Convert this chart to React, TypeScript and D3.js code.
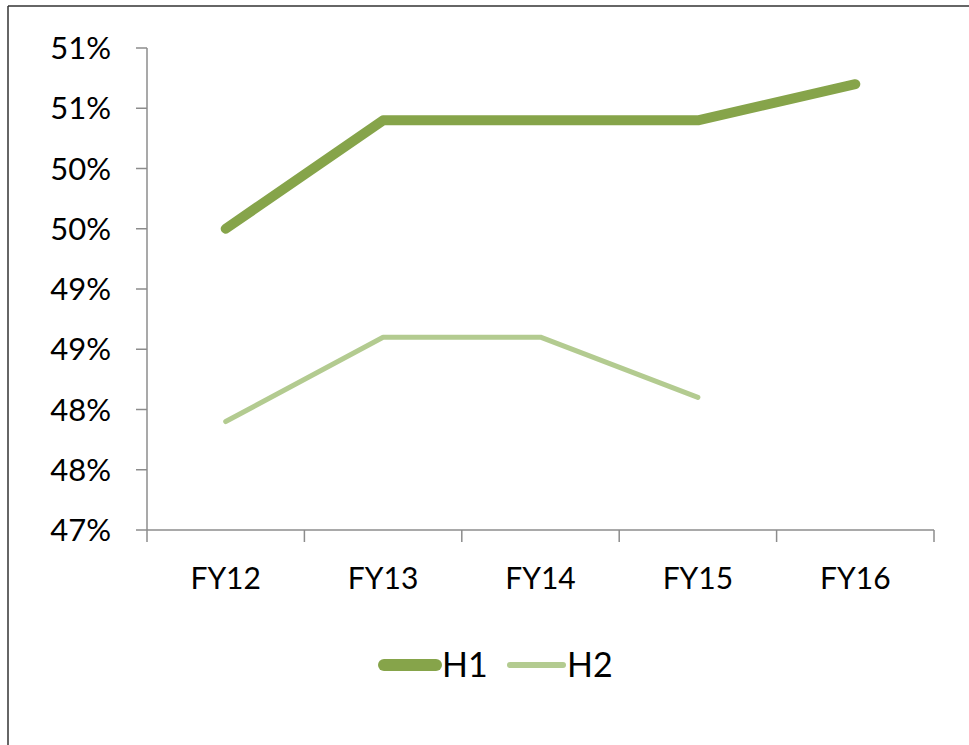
import React, { useEffect, useRef } from "react";
import * as d3 from "d3";

const categories = ["FY12", "FY13", "FY14", "FY15", "FY16"];
const h1Values = [49.5, 50.4, 50.4, 50.4, 50.7];
const h2Values: (number | null)[] = [47.9, 48.6, 48.6, 48.1, null];
const yTicks = [47, 47.5, 48, 48.5, 49, 49.5, 50, 50.5, 51];
const seriesNames = ["H1", "H2"];

const W = 969;
const H = 745;
const FONT = "Lato, 'Open Sans', sans-serif";

export default function App() {
  const ref = useRef<SVGSVGElement>(null);

  useEffect(() => {
    const svg = d3.select(ref.current);
    svg.selectAll("*").remove();

    const left = 147, right = 934, top = 48, bottom = 530;
    const x = d3.scaleBand<string>().domain(categories).range([left, right]);
    const y = d3.scaleLinear().domain([47, 51]).range([bottom, top]);
    const cx = (c: string) => (x(c) as number) + x.bandwidth() / 2;

    // frame
    svg.append("line").attr("x1", 8).attr("x2", W).attr("y1", 6).attr("y2", 6)
      .attr("stroke", "#333").attr("stroke-width", 1.5);
    svg.append("line").attr("x1", 8).attr("x2", 8).attr("y1", 6).attr("y2", H)
      .attr("stroke", "#333").attr("stroke-width", 1.5);

    const axisColor = "#8c8c8c";
    // y axis
    svg.append("line").attr("x1", left).attr("x2", left).attr("y1", top).attr("y2", bottom)
      .attr("stroke", axisColor).attr("stroke-width", 1.5);
    yTicks.forEach((t) => {
      svg.append("line").attr("x1", left - 11).attr("x2", left).attr("y1", y(t)).attr("y2", y(t))
        .attr("stroke", axisColor).attr("stroke-width", 1.5);
      svg.append("text").attr("x", 111).attr("y", y(t)).attr("dy", "0.36em")
        .attr("text-anchor", "end").attr("font-family", FONT).attr("font-size", 31)
        .attr("fill", "#000").text(d3.format(".0f")(t) + "%");
    });

    // x axis
    svg.append("line").attr("x1", left).attr("x2", right).attr("y1", bottom).attr("y2", bottom)
      .attr("stroke", axisColor).attr("stroke-width", 1.5);
    const xEdges = [...categories.map((c) => x(c) as number), right];
    xEdges.forEach((e) => {
      svg.append("line").attr("x1", e).attr("x2", e).attr("y1", bottom).attr("y2", bottom + 12)
        .attr("stroke", axisColor).attr("stroke-width", 1.5);
    });
    categories.forEach((c) => {
      svg.append("text").attr("x", cx(c)).attr("y", 589).attr("text-anchor", "middle")
        .attr("font-family", FONT).attr("font-size", 30).attr("fill", "#000").text(c);
    });

    const colors = ["#86A44A", "#B3CB90"];
    const widths = [10, 5];
    const seriesData = [h1Values, h2Values];

    seriesData.forEach((vals, i) => {
      const line = d3.line<number | null>()
        .defined((d) => d !== null)
        .x((_, j) => cx(categories[j]))
        .y((d) => y(d as number));
      svg.append("path").attr("d", line(vals) as string).attr("fill", "none")
        .attr("stroke", colors[i]).attr("stroke-width", widths[i])
        .attr("stroke-linecap", "round").attr("stroke-linejoin", "round");
    });

    // legend
    const legendY = 665;
    const legendItems = [
      { x1: 384, x2: 436, tx: 442 },
      { x1: 510, x2: 563, tx: 567 },
    ];
    legendItems.forEach((it, i) => {
      svg.append("line").attr("x1", it.x1).attr("x2", it.x2).attr("y1", legendY).attr("y2", legendY)
        .attr("stroke", colors[i]).attr("stroke-width", i === 0 ? 12 : 6).attr("stroke-linecap", "round");
      svg.append("text").attr("x", it.tx).attr("y", legendY).attr("dy", "0.36em")
        .attr("font-family", FONT).attr("font-size", 34).attr("fill", "#000").text(seriesNames[i]);
    });
  }, []);

  return (
    <svg ref={ref} width={W} height={H}
      style={{ position: "absolute", left: 0, top: 0, background: "#fff" }} />
  );
}
